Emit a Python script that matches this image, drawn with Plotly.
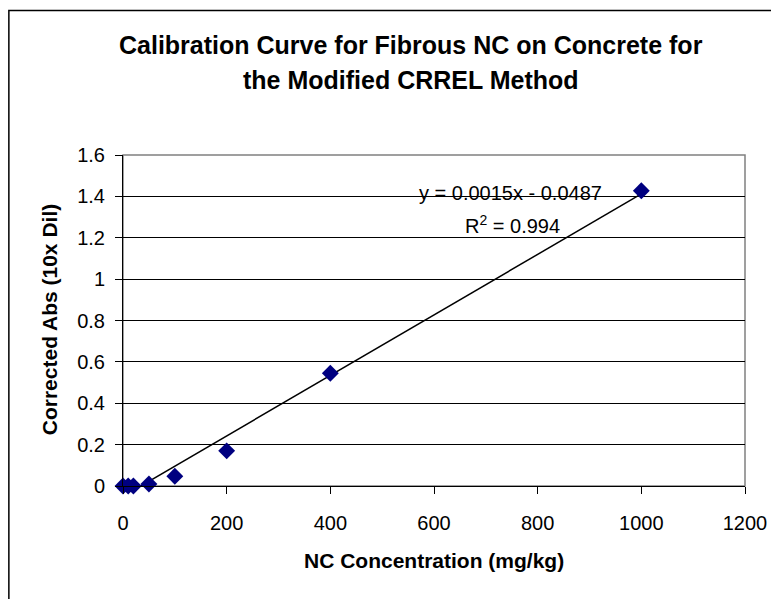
import numpy as np
import plotly.graph_objects as go

# Data
conc = [0, 10, 20, 50, 100, 200, 400, 1000]
absorb = [0.0, 0.0, 0.0, 0.01, 0.047, 0.17, 0.545, 1.427]
x_ticks = [0, 200, 400, 600, 800, 1000, 1200]
y_ticks = [0, 0.2, 0.4, 0.6, 0.8, 1.0, 1.2, 1.4, 1.6]
y_tick_labels = ["0", "0.2", "0.4", "0.6", "0.8", "1", "1.2", "1.4", "1.6"]
eq_text = "y = 0.0015x - 0.0487"
r2_text = "R<sup>2</sup> = 0.994"
title_lines = ["Calibration Curve for Fibrous NC on Concrete for", "the Modified CRREL Method"]
x_title = "NC Concentration (mg/kg)"
y_title = "Corrected Abs (10x Dil)"

slope, intercept = np.polyfit(conc, absorb, 1)
trend_x = [min(conc), max(conc)]
trend_y = [slope * v + intercept for v in trend_x]

# page offset (browser default body margin)
OFF = 8
W, H = 779 - OFF, 599 - OFF
# plot area in page pixels
PL, PR, PT, PB = 123, 747, 155, 486
L, R, T, B = PL - OFF, W - (PR - OFF), PT - OFF, H - (PB - OFF)
pw, ph = W - L - R, H - T - B

def ax(px):  # page px -> paper x
    return (px - OFF - L) / pw

def ay(py):  # page py -> paper y
    return (H - B - (py - OFF)) / ph

FONT = "Liberation Sans, Arial"

fig = go.Figure()
fig.add_trace(go.Scatter(x=trend_x, y=trend_y, mode="lines",
                         line=dict(color="black", width=1.5), showlegend=False,
                         hoverinfo="skip"))
fig.add_trace(go.Scatter(x=conc, y=absorb, mode="markers",
                         marker=dict(symbol="diamond", size=13, color="#000080"),
                         showlegend=False, cliponaxis=False))

fig.add_annotation(x=ax(512), y=ay(180), xref="paper", yref="paper",
                   text=eq_text, showarrow=False, font=dict(family=FONT, size=20, color="black"))
fig.add_annotation(x=ax(514), y=ay(210), xref="paper", yref="paper",
                   text=r2_text, showarrow=False, font=dict(family=FONT, size=20, color="black"))

# title lines
for txt, ty in zip(title_lines, [45, 80]):
    fig.add_annotation(x=ax(412), y=ay(ty), xref="paper", yref="paper", text="<b>%s</b>" % txt,
                       showarrow=False, xanchor="center", yanchor="middle",
                       font=dict(family=FONT, size=25, color="black"))
# axis titles
fig.add_annotation(x=ax(435), y=ay(560), xref="paper", yref="paper", text="<b>%s</b>" % x_title,
                   showarrow=False, xanchor="center", yanchor="middle",
                   font=dict(family=FONT, size=21, color="black"))
fig.add_annotation(x=ax(49), y=ay(320), xref="paper", yref="paper", text="<b>%s</b>" % y_title,
                   showarrow=False, xanchor="center", yanchor="middle", textangle=-90,
                   font=dict(family=FONT, size=21, color="black"))

# outer chart border (extends past right and bottom edges)
fig.add_shape(type="rect", xref="paper", yref="paper",
              x0=ax(8.5), x1=ax(820), y0=ay(640), y1=ay(10.5),
              line=dict(color="black", width=1.5), layer="below")
# plot area border (gray)
fig.add_shape(type="rect", xref="paper", yref="paper", x0=0, x1=1, y0=0, y1=1,
              line=dict(color="#808080", width=1.5), layer="below")

fig.update_layout(
    width=W, height=H,
    margin=dict(l=L, r=R, t=T, b=B),
    paper_bgcolor="white", plot_bgcolor="white",
    font=dict(family=FONT, color="black"),
    xaxis=dict(range=[0, 1200], tickvals=x_ticks, ticks="outside", ticklen=7, tickcolor="black",
               showline=True, linecolor="black", linewidth=1, showgrid=False, zeroline=False,
               tickfont=dict(size=20), ticklabelstandoff=12),
    yaxis=dict(range=[0, 1.6], tickvals=y_ticks, ticktext=y_tick_labels, ticks="outside", ticklen=7,
               tickcolor="black", showline=True, linecolor="black", linewidth=1,
               showgrid=True, gridcolor="black", gridwidth=1, zeroline=False,
               tickfont=dict(size=20), ticklabelstandoff=6),
)

fig.write_html("out.html")
